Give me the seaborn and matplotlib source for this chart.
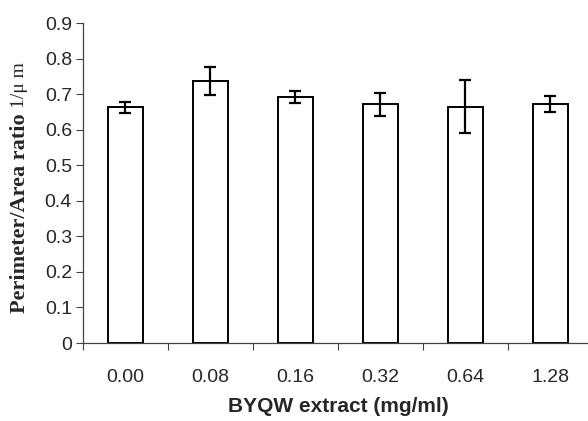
import matplotlib
matplotlib.use('Agg')
import matplotlib.pyplot as plt
import seaborn as sns
import pandas as pd

# data
doses = ['0.00', '0.08', '0.16', '0.32', '0.64', '1.28']
ratio = [0.663, 0.737, 0.692, 0.671, 0.665, 0.672]
err = [0.016, 0.040, 0.017, 0.033, 0.075, 0.022]

df = pd.DataFrame({'dose': doses, 'ratio': ratio, 'err': err})

sns.set_style('white')
plt.rcParams['font.family'] = ['Liberation Sans', 'DejaVu Sans']

fig = plt.figure(figsize=(5.88, 4.21), dpi=100)
# axes: left at x=83, y0 at 343, y0.9 at 23, category width ~85 px
ax = fig.add_axes([83 / 588, (421 - 343) / 421, 510 / 588, (343 - 23) / 421])

sns.barplot(data=df, x='dose', y='ratio', color='white', edgecolor='black',
            linewidth=1.4, width=0.41, ax=ax)
ax.errorbar(range(len(doses)), df['ratio'], yerr=df['err'], fmt='none',
            ecolor='black', elinewidth=1.6, capsize=4.2, capthick=1.6)

ax.set_ylim(0, 0.9)
ax.set_xlim(-0.5, len(doses) - 0.5)
ax.set_yticks([i / 10 for i in range(10)])
ax.set_yticklabels(['0'] + [f'{i / 10:.1f}' for i in range(1, 10)])
# major ticks between categories, labels on minor ticks at the centres
ax.set_xticks([i - 0.5 for i in range(len(doses) + 1)])
ax.set_xticklabels([])
ax.set_xticks(range(len(doses)), minor=True)
ax.set_xticklabels(doses, minor=True)
ax.tick_params(axis='x', which='major', bottom=True, direction='out', length=5,
               width=0.8, color='#444444')
ax.tick_params(axis='x', which='minor', bottom=True, length=0, pad=19, labelsize=14)
ax.tick_params(axis='y', left=True, direction='out', length=5, width=0.8,
               color='#444444', labelsize=14, pad=3)

for s in ['top', 'right']:
    ax.spines[s].set_visible(False)
for s in ['left', 'bottom']:
    ax.spines[s].set_color('#444444')
    ax.spines[s].set_linewidth(0.9)

ax.set_xlabel('BYQW extract (mg/ml)', fontsize=15, fontweight='bold', labelpad=8)
ax.set_ylabel('')
serif = ['Liberation Serif', 'DejaVu Serif']
fig.text(20 / 588, (421 - 213) / 421, 'Perimeter/Area ratio', rotation=90,
         ha='center', va='center', fontsize=16, fontweight='bold', family=serif)
fig.text(20 / 588, (421 - 85) / 421, '1/\u03bc m', rotation=90,
         ha='center', va='center', fontsize=14, family=serif)

fig.savefig('out.png', dpi=100)
